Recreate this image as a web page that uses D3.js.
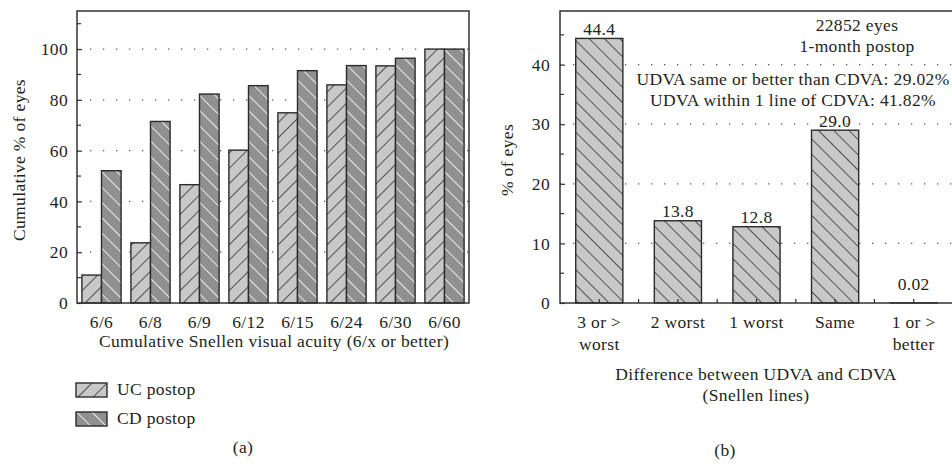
<!DOCTYPE html>
<html>
<head>
<meta charset="utf-8">
<script src="https://cdn.jsdelivr.net/npm/d3@7"></script>
<style>
  html, body { margin: 0; padding: 0; background: #fff; }
  svg { display: block; }
  text { font-family: "Liberation Serif", "DejaVu Serif", serif; fill: #231f20; letter-spacing: 0.35px; }
</style>
</head>
<body>
<svg id="chart" width="952" height="468"></svg>
<script>
// ---- Panel (a): cumulative Snellen visual acuity ----
const acuityCats = ["6/6", "6/8", "6/9", "6/12", "6/15", "6/24", "6/30", "6/60"];
const ucPostop = [11, 23.7, 46.6, 60.2, 74.9, 85.9, 93.4, 100];
const cdPostop = [52.1, 71.5, 82.3, 85.6, 91.5, 93.5, 96.4, 100];
const seriesNames = ["UC postop", "CD postop"];
const ticksA = [0, 20, 40, 60, 80, 100];
const minorA = [10, 30, 50, 70, 90, 110];

// ---- Panel (b): difference between UDVA and CDVA ----
const diffCats = [["3 or >", "worst"], ["2 worst"], ["1 worst"], ["Same"], ["1 or >", "better"]];
const diffVals = [44.4, 13.8, 12.8, 29.0, 0.02];
const diffLabels = ["44.4", "13.8", "12.8", "29.0", "0.02"];
const ticksB = [0, 10, 20, 30, 40];
const minorB = [5, 15, 25, 35, 45];
const notesTop = ["22852 eyes", "1-month postop"];
const notesMid = ["UDVA same or better than CDVA: 29.02%", "UDVA within 1 line of CDVA: 41.82%"];

const svg = d3.select("#chart");
const FS = 17.5;
const INK = "#231f20";

// hatch patterns
const defs = svg.append("defs");
function hatch(id, bg, lineColor, lw, dir) {
  const p = defs.append("pattern")
    .attr("id", id).attr("patternUnits", "userSpaceOnUse")
    .attr("width", 10.8).attr("height", 10.8)
    .attr("patternTransform", `rotate(${dir})`);
  p.append("rect").attr("width", 10.8).attr("height", 10.8).attr("fill", bg);
  p.append("line").attr("x1", 0).attr("y1", -1).attr("x2", 0).attr("y2", 12)
    .attr("stroke", lineColor).attr("stroke-width", lw);
}
hatch("hatchUC", "#c8c8c8", "#1f1f1f", 1.4, 45);
hatch("hatchCD", "#909090", "#ffffff", 1.6, -45);
hatch("hatchB", "#c8c8c8", "#1f1f1f", 1.4, -45);

function frame(g, x0, x1, y0, y1) {
  g.append("path")
    .attr("d", `M${x0},${y0}H${x1}V${y1}H${x0}Z`)
    .attr("fill", "none").attr("stroke", "#333").attr("stroke-width", 1.5);
}

function grid(g, y, vals, x0, x1) {
  g.append("g").selectAll("line").data(vals).join("line")
    .attr("x1", x0).attr("x2", x1)
    .attr("y1", d => y(d)).attr("y2", d => y(d))
    .attr("stroke", "#555").attr("stroke-width", 1.3)
    .attr("stroke-dasharray", "1.3,11.7");
}

function yAxisInside(g, y, major, minor, x0, pad) {
  const ax = g.append("g").attr("transform", `translate(${x0},0)`);
  const axis = d3.axisLeft(y).tickValues(major).tickSize(-5).tickPadding(pad)
    .tickFormat(d3.format("d"));
  ax.call(axis);
  ax.select(".domain").remove();
  ax.selectAll(".tick line").attr("stroke", "#333").attr("stroke-width", 1.2);
  ax.selectAll(".tick text").attr("font-size", FS).attr("fill", INK)
    .attr("font-family", '"Liberation Serif", serif');
  g.append("g").selectAll("line").data(minor).join("line")
    .attr("x1", x0).attr("x2", x0 + 4)
    .attr("y1", d => y(d)).attr("y2", d => y(d))
    .attr("stroke", "#333").attr("stroke-width", 1.2);
}

// ================= Panel (a) =================
{
  const L = 77, R = 469, T = 11, B = 303;
  const g = svg.append("g");
  const y = d3.scaleLinear().domain([0, 115]).range([B, T]);
  const x = d3.scaleBand().domain(acuityCats).range([L, R]).paddingInner(0.2).paddingOuter(0.1);
  const xs = d3.scaleBand().domain(seriesNames).range([0, x.bandwidth()]);

  grid(g, y, [20, 40, 60, 80, 100], L, R);

  const rows = acuityCats.map((c, i) => ({ c, vals: [ucPostop[i], cdPostop[i]] }));
  const grp = g.append("g").selectAll("g").data(rows).join("g")
    .attr("transform", d => `translate(${x(d.c)},0)`);
  grp.selectAll("rect").data(d => d.vals.map((v, k) => ({ v, k }))).join("rect")
    .attr("x", d => xs(seriesNames[d.k]))
    .attr("width", xs.bandwidth())
    .attr("y", d => y(d.v))
    .attr("height", d => y(0) - y(d.v))
    .attr("fill", d => d.k === 0 ? "url(#hatchUC)" : "url(#hatchCD)")
    .attr("stroke", "#2b2b2b").attr("stroke-width", 1.4);

  yAxisInside(g, y, ticksA, minorA, L, 9);
  frame(g, L, R, T, B);

  g.append("g").selectAll("text").data(acuityCats).join("text")
    .attr("x", d => x(d) + x.bandwidth() / 2).attr("y", 328)
    .attr("text-anchor", "middle").attr("font-size", FS).text(d => d);

  g.append("text").attr("x", (L + R) / 2 + 1).attr("y", 347)
    .attr("text-anchor", "middle").attr("font-size", FS)
    .text("Cumulative Snellen visual acuity (6/x or better)");

  g.append("text").attr("transform", `translate(25,${(T + B) / 2 + 3}) rotate(-90)`)
    .attr("text-anchor", "middle").attr("font-size", FS)
    .text("Cumulative % of eyes");

  // legend
  const lg = g.append("g").selectAll("g").data(seriesNames).join("g")
    .attr("transform", (d, i) => `translate(76,${383 + i * 29})`);
  lg.append("rect").attr("width", 31).attr("height", 14)
    .attr("fill", (d, i) => i === 0 ? "url(#hatchUC)" : "url(#hatchCD)")
    .attr("stroke", "#2b2b2b").attr("stroke-width", 1.4);
  lg.append("text").attr("x", 41).attr("y", 12).attr("font-size", FS).text(d => d);

  g.append("text").attr("x", 243).attr("y", 453).attr("text-anchor", "middle")
    .attr("font-size", FS).text("(a)");
}

// ================= Panel (b) =================
{
  const L = 560, R = 953, T = 11, B = 303;
  const g = svg.append("g");
  const y = d3.scaleLinear().domain([0, 49]).range([B, T]);
  const keys = diffCats.map(d => d.join(" "));
  const x = d3.scaleBand().domain(keys).range([L, R]).paddingInner(0.4).paddingOuter(0.2);

  grid(g, y, [10, 20, 30, 40], L, R);

  g.append("g").selectAll("rect").data(diffVals).join("rect")
    .attr("x", (d, i) => x(keys[i]))
    .attr("width", x.bandwidth())
    .attr("y", d => y(d))
    .attr("height", d => y(0) - y(d))
    .attr("fill", "url(#hatchB)")
    .attr("stroke", "#2b2b2b").attr("stroke-width", 1.4);

  g.append("g").selectAll("text").data(diffVals).join("text")
    .attr("x", (d, i) => x(keys[i]) + x.bandwidth() / 2)
    .attr("y", d => Math.min(y(d), y(0) - 10) - 3.5)
    .attr("text-anchor", "middle").attr("font-size", FS)
    .text((d, i) => diffLabels[i]);

  // bottom ticks at band centres and boundaries
  const tickX = [];
  keys.forEach((k, i) => {
    tickX.push(x(k) + x.bandwidth() / 2);
    if (i < keys.length - 1) tickX.push(x(k) + x.bandwidth() / 2 + x.step() / 2);
  });
  g.append("g").selectAll("line").data(tickX).join("line")
    .attr("x1", d => d).attr("x2", d => d).attr("y1", B).attr("y2", B - 4)
    .attr("stroke", "#333").attr("stroke-width", 1.2);

  yAxisInside(g, y, ticksB, minorB, L, 10);
  frame(g, L, R, T, B);

  const xl = g.append("g").selectAll("text").data(diffCats).join("text")
    .attr("text-anchor", "middle").attr("font-size", FS);
  xl.selectAll("tspan").data((d, i) => d.map(s => ({ s, i }))).join("tspan")
    .attr("x", d => x(keys[d.i]) + x.bandwidth() / 2)
    .attr("y", (d, j) => 328 + j * 22)
    .text(d => d.s);

  g.append("text").attr("x", 756).attr("y", 380).attr("text-anchor", "middle")
    .attr("font-size", FS).text("Difference between UDVA and CDVA");
  g.append("text").attr("x", 756).attr("y", 401).attr("text-anchor", "middle")
    .attr("font-size", FS).text("(Snellen lines)");

  g.append("text").attr("transform", `translate(513,${(T + B) / 2 + 3}) rotate(-90)`)
    .attr("text-anchor", "middle").attr("font-size", FS).text("% of eyes");

  g.append("g").selectAll("text").data(notesTop).join("text")
    .attr("x", 857).attr("y", (d, i) => 31 + i * 21)
    .attr("text-anchor", "middle").attr("font-size", FS).text(d => d);
  g.append("g").selectAll("text").data(notesMid).join("text")
    .attr("x", 793).attr("y", (d, i) => 85 + i * 21)
    .attr("text-anchor", "middle").attr("font-size", FS).text(d => d);

  g.append("text").attr("x", 725).attr("y", 456).attr("text-anchor", "middle")
    .attr("font-size", FS).text("(b)");
}
</script>
</body>
</html>
